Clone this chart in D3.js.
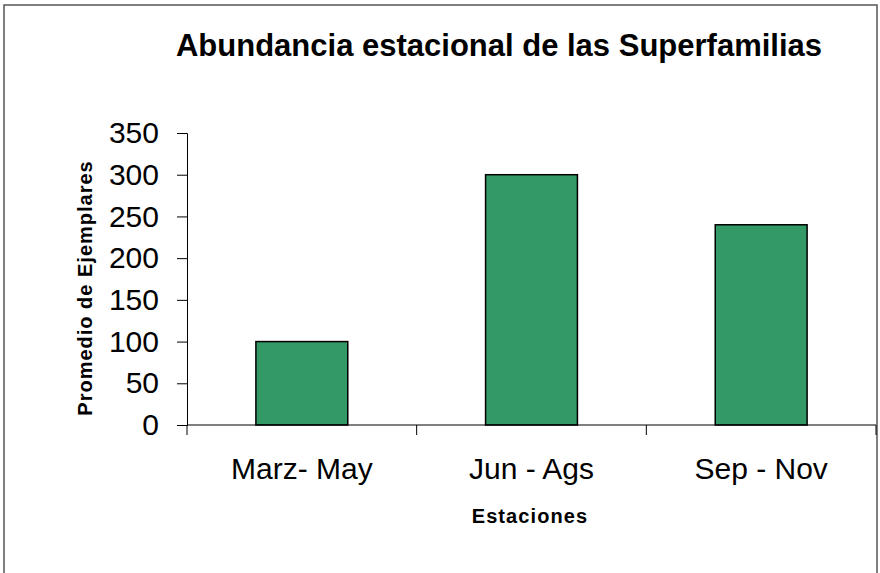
<!DOCTYPE html>
<html>
<head>
<meta charset="utf-8">
<script src="https://cdn.jsdelivr.net/npm/d3@7"></script>
<style>
    body { margin: 0; background: #fff; }
    svg { display: block; font-family: "Liberation Sans", Arial, sans-serif; }
</style>
</head>
<body>
<div id="chart"></div>
<script>
//Chart data
var seasons = ["Marz- May", "Jun - Ags", "Sep - Nov"];
var averages = [100, 300, 240];
var yTicks = [0, 50, 100, 150, 200, 250, 300, 350];

var width = 880, height = 573;
var plot = { left: 187, right: 876, top: 133, bottom: 425 };

var svg = d3.select("#chart")
    .append("svg")
    .attr("width", width)
    .attr("height", height);

//Outer chart border
svg.append("rect")
    .attr("x", 4).attr("y", 5)
    .attr("width", 873).attr("height", 600)
    .attr("fill", "#fff")
    .attr("stroke", "#555")
    .attr("stroke-width", 1.5);

//Scales: bar width is 40% of each category slot
var x = d3.scaleBand()
    .domain(seasons)
    .range([plot.left, plot.right])
    .paddingInner(0.6)
    .paddingOuter(0.3);

var y = d3.scaleLinear()
    .domain([0, 350])
    .range([plot.bottom, plot.top]);

//Bars
svg.selectAll("rect.bar")
    .data(seasons)
    .enter().append("rect")
    .attr("class", "bar")
    .attr("x", function (d) { return x(d); })
    .attr("width", x.bandwidth())
    .attr("y", function (d, i) { return y(averages[i]); })
    .attr("height", function (d, i) { return y(0) - y(averages[i]); })
    .attr("fill", "#339966")
    .attr("stroke", "#000")
    .attr("stroke-width", 1.5);

//Y axis
var yAxis = svg.append("g")
    .attr("transform", "translate(" + plot.left + ",0)")
    .call(d3.axisLeft(y).tickValues(yTicks).tickSize(10).tickPadding(18));
yAxis.selectAll("text")
    .attr("font-size", 30)
    .attr("font-family", "Liberation Sans, Arial, sans-serif")
    .attr("fill", "#000");

//X axis: ticks sit between categories, labels at category centres
var step = x.step();
var boundaries = [0, 1, 2, 3].map(function (i) { return x(seasons[0]) - x.paddingOuter() * step + i * step; });
var xAxis = svg.append("g").attr("transform", "translate(0," + plot.bottom + ")");
xAxis.append("line")
    .attr("x1", plot.left).attr("x2", plot.right)
    .attr("stroke", "#000");
xAxis.selectAll("line.tick")
    .data(boundaries)
    .enter().append("line")
    .attr("class", "tick")
    .attr("x1", function (d) { return d; })
    .attr("x2", function (d) { return d; })
    .attr("y1", 0).attr("y2", 10)
    .attr("stroke", "#000");
xAxis.selectAll("text")
    .data(seasons)
    .enter().append("text")
    .attr("x", function (d) { return x(d) + x.bandwidth() / 2; })
    .attr("y", 54)
    .attr("text-anchor", "middle")
    .attr("font-size", 30)
    .text(function (d) { return d; });

//Titles
svg.append("text")
    .attr("x", 499).attr("y", 56)
    .attr("text-anchor", "middle")
    .attr("font-size", 31)
    .attr("font-weight", "bold")
    .text("Abundancia estacional de las Superfamilias");

svg.append("text")
    .attr("x", 530).attr("y", 523)
    .attr("text-anchor", "middle")
    .attr("font-size", 20)
    .attr("font-weight", "bold")
    .attr("letter-spacing", 1.1)
    .text("Estaciones");

svg.append("text")
    .attr("transform", "translate(92," + ((plot.top + plot.bottom) / 2 + 9) + ") rotate(-90)")
    .attr("text-anchor", "middle")
    .attr("font-size", 20)
    .attr("font-weight", "bold")
    .attr("letter-spacing", 1)
    .text("Promedio de Ejemplares");
</script>
</body>
</html>
